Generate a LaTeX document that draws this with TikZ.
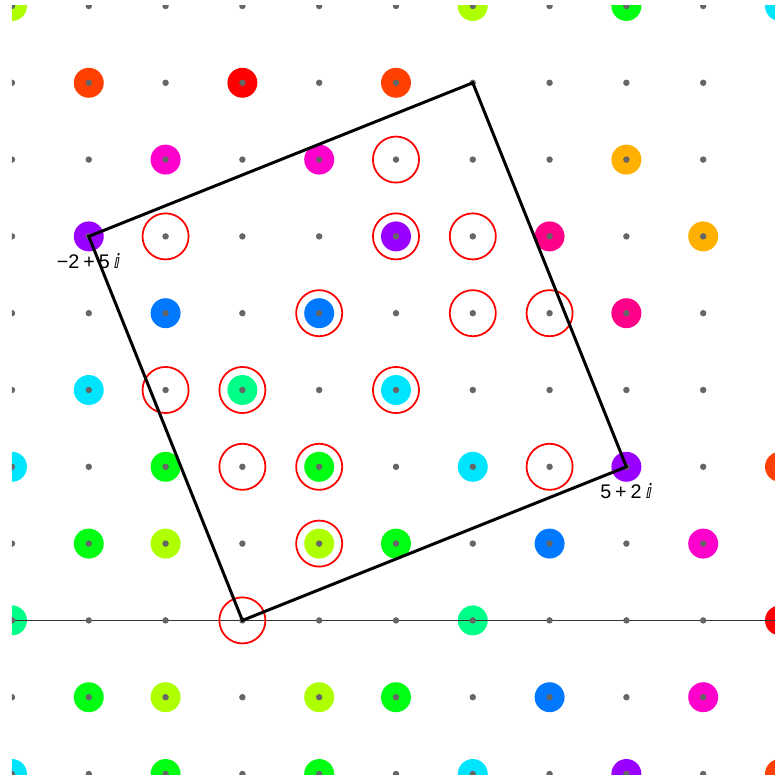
\documentclass[tikz,border=0pt]{standalone}
\usepackage{fontspec}
\setmainfont{Liberation Sans}
\newfontfamily\dejavu{DejaVu Sans}
\usetikzlibrary{positioning}
\definecolor{n2}{HTML}{AEFF00}
\definecolor{n5}{HTML}{00FF12}
\definecolor{n9}{HTML}{00FF88}
\definecolor{n13}{HTML}{00E5FF}
\definecolor{n17}{HTML}{0078FF}
\definecolor{n29}{HTML}{9900FF}
\definecolor{n37}{HTML}{FF00CC}
\definecolor{n41}{HTML}{FF0088}
\definecolor{n49}{HTML}{FF0000}
\definecolor{n53}{HTML}{FF4000}
\definecolor{n61}{HTML}{FFB000}
\definecolor{dot}{HTML}{666666}
\begin{document}
\begin{tikzpicture}[every node/.style={inner sep=0pt, font=\fontsize{7.3}{8.5}\selectfont},
		prime/.style={fill=#1}, res/.style={draw=red, line width=0.65pt}]
	\useasboundingbox (-3.156,-2.052) rectangle (6.935,8.078);
	\clip (-3,-2.005) rectangle (6.935,8);
	% primes, coloured by norm
	\foreach \a/\b/\c in {-3/8/n2, 3/8/n2, 5/8/n5, 7/8/n13, -2/7/n53, 0/7/n49, 2/7/n53,
		-1/6/n37, 1/6/n37, 5/6/n61, -2/5/n29, 2/5/n29, 4/5/n41, 6/5/n61, -1/4/n17, 1/4/n17, 5/4/n41,
		-2/3/n13, 0/3/n9, 2/3/n13, -3/2/n13, -1/2/n5, 1/2/n5, 3/2/n13, 5/2/n29, 7/2/n53,
		-2/1/n5, -1/1/n2, 1/1/n2, 2/1/n5, 4/1/n17, 6/1/n37, -3/0/n9, 3/0/n9, 7/0/n49,
		-2/-1/n5, -1/-1/n2, 1/-1/n2, 2/-1/n5, 4/-1/n17, 6/-1/n37,
		-3/-2/n13, -1/-2/n5, 1/-2/n5, 3/-2/n13, 5/-2/n29, 7/-2/n53}
		\path[prime=\c] (\a,\b) circle (0.195);
	\draw[line width=0.37pt, black!80] (-3.2,0) -- (7,0);
	\foreach \a in {-3,...,7}
		\foreach \b in {-2,...,8}
			\fill[dot] (\a,\b) circle (0.042);
	% quadratic residues
	\foreach \a/\b in {0/0, 1/1, 0/2, 1/2, 4/2, -1/3, 0/3, 2/3, 1/4, 3/4, 4/4, -1/5, 2/5, 3/5, 2/6}
		\draw[res] (\a,\b) circle (0.3);
	\coordinate (o) at (0,0);
	\coordinate (p) at (5,2);
	\coordinate (q) at (3,7);
	\coordinate (r) at (-2,5);
	\draw[line width=1.1pt] (o) -- (p) -- (q) -- (r) -- cycle;
	\node[below=2.1mm of r] (lr) {−2\hspace{0.2em}+\hspace{0.2em}5\hspace{0.2em}{\dejavu ⅈ}};
	\node[below=2.1mm of p] (lp) {5\hspace{0.2em}+\hspace{0.2em}2\hspace{0.2em}{\dejavu ⅈ}};
\end{tikzpicture}
\end{document}
